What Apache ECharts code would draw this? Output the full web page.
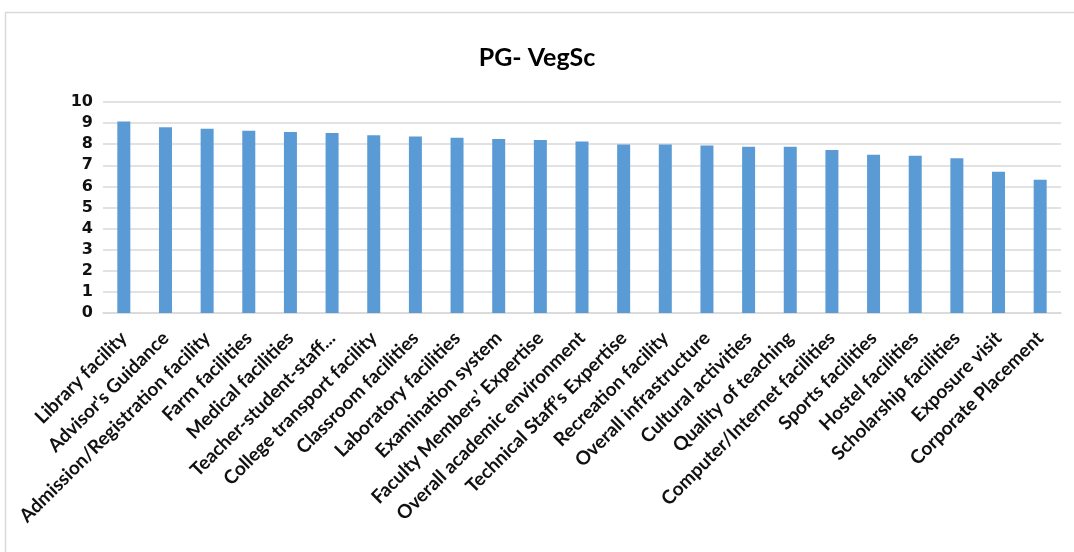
<!DOCTYPE html>
<html><head><meta charset="utf-8">
<script src="https://cdn.jsdelivr.net/npm/echarts@6/dist/echarts.min.js"></script>
<style>html,body{margin:0;padding:0;background:#fff;}#c{width:1074px;height:552px;}</style>
</head><body><div id="c"></div>
<script>
const categories = ["Library facility","Advisor's Guidance","Admission/Registration facility","Farm facilities","Medical facilities","Teacher-student-staff...","College transport facility","Classroom facilities","Laboratory facilities","Examination system","Faculty Members’ Expertise","Overall academic environment","Technical Staff’s Expertise","Recreation facility","Overall infrastructure","Cultural activities","Quality of teaching","Computer/Internet facilities","Sports facilities","Hostel facilities","Scholarship facilities","Exposure visit","Corporate Placement"];
const values = [9.07,8.80,8.73,8.64,8.58,8.53,8.42,8.36,8.31,8.25,8.20,8.13,7.99,7.99,7.94,7.88,7.88,7.72,7.50,7.45,7.34,6.70,6.32];
const yTicks = [0,1,2,3,4,5,6,7,8,9,10];
const chart = echarts.init(document.getElementById('c'));
chart.setOption({
  backgroundColor:'#fff',
  animation:false,
  title:{text:'PG- VegSc',left:'center',top:40,textStyle:{fontFamily:'Lato',fontWeight:'bold',fontSize:25,color:'#000'}},
  graphic:[{type:'rect',shape:{x:5.5,y:12.5,width:1080,height:560},style:{fill:'none',stroke:'#d9d9d9',lineWidth:1.5},silent:true}],
  grid:{left:103,right:13,top:102,bottom:239,containLabel:false},
  xAxis:{type:'category',data:categories,
    axisLine:{lineStyle:{color:'#d9d9d9',width:1.5}},axisTick:{show:false},
    axisLabel:{interval:0,rotate:45,margin:22,fontFamily:'Lato',fontWeight:'bold',fontSize:19,color:'#111'}},
  yAxis:{type:'value',min:yTicks[0],max:yTicks[yTicks.length-1],interval:1,
    axisLine:{show:false},axisTick:{show:false},
    splitLine:{lineStyle:{color:'#d9d9d9',width:1.5}},
    axisLabel:{fontFamily:'DejaVu Sans',fontWeight:'bold',fontSize:16,color:'#111',margin:10}},
  series:[{type:'bar',data:values,barWidth:13,itemStyle:{color:'#5b9bd5'}}]
});
</script></body></html>
